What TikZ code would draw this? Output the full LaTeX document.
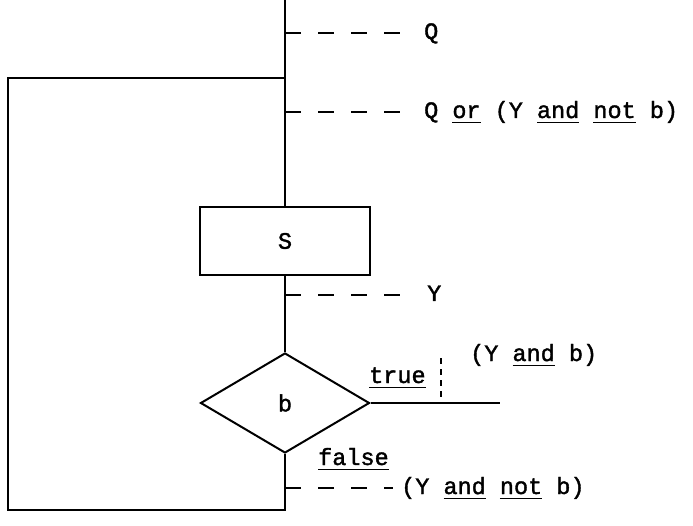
\documentclass[tikz,border=0pt]{standalone}
\usepackage{fontspec}
\setmonofont[FakeBold=1.6]{Liberation Mono}
\usetikzlibrary{shapes.geometric}
\tikzset{
  flow/.style={line width=2pt},
  stepbox/.style={draw, line width=2pt, minimum width=170pt, minimum height=68pt, inner sep=0pt},
  decision/.style={draw, diamond, line width=2pt, minimum width=169pt, minimum height=100pt, inner sep=0pt},
  assertion/.style={line width=1.7pt, dash pattern=on 16pt off 17pt},
  txt/.style={inner sep=0pt, font=\ttfamily\fontsize{23.5}{28}\selectfont},
}
% keyword underlined a little below the baseline
\newcommand{\kw}[1]{\underline{#1\vrule depth 3pt width 0pt}}
\begin{document}
\begin{tikzpicture}[x=1pt,y=-1pt]
\useasboundingbox (0,0) rectangle (693,526);
% main flow
\coordinate (top) at (285,0);
\node[stepbox, txt] (S) at (285,241) {S};
\node[decision, txt] (D) at (285,403) {b};
\coordinate (bot) at (285,510);
\coordinate (bl) at (8,510);
\coordinate (tl) at (8,78);
\coordinate (join) at (285,78);
\coordinate (tend) at (500,403);
\draw[flow] (top) -- (S.north);
\draw[flow] (S.south) -- (D.north);
\draw[flow] (D.south) -- (bot) -- (bl) -- (tl) -- (join);
\draw[flow] (D.east) -- (tend);
% assertions
\coordinate (a1) at (285,33);  \coordinate (a1e) at (405,33);
\coordinate (a2) at (285,112); \coordinate (a2e) at (405,112);
\coordinate (a3) at (285,295); \coordinate (a3e) at (405,295);
\coordinate (a4) at (285,488); \coordinate (a4e) at (393,488);
\draw[assertion] (a1) -- (a1e);
\draw[assertion] (a2) -- (a2e);
\draw[assertion] (a3) -- (a3e);
\draw[assertion] (a4) -- (a4e);
\node[txt, anchor=base west] (q1) at (424,39) {Q};
\node[txt, anchor=base west] (q2) at (424,118) {Q \kw{or} (Y \kw{and} \kw{not} b)};
\node[txt, anchor=base west] (y1) at (427,301) {Y};
\node[txt, anchor=base west] (nb) at (401,494) {(Y \kw{and} \kw{not} b)};
% branch labels
\node[txt, anchor=base west] (tr) at (369,383) {\kw{true}};
\node[txt, anchor=base west] (fa) at (318,465) {\kw{false}};
\coordinate (tv1) at (441,358);
\coordinate (tv2) at (441,401);
\draw[line width=1.4pt, dash pattern=on 6pt off 5pt] (tv1) -- (tv2);
\node[txt, anchor=base west] (yb) at (470,361) {(Y \kw{and} b)};
\end{tikzpicture}
\end{document}
